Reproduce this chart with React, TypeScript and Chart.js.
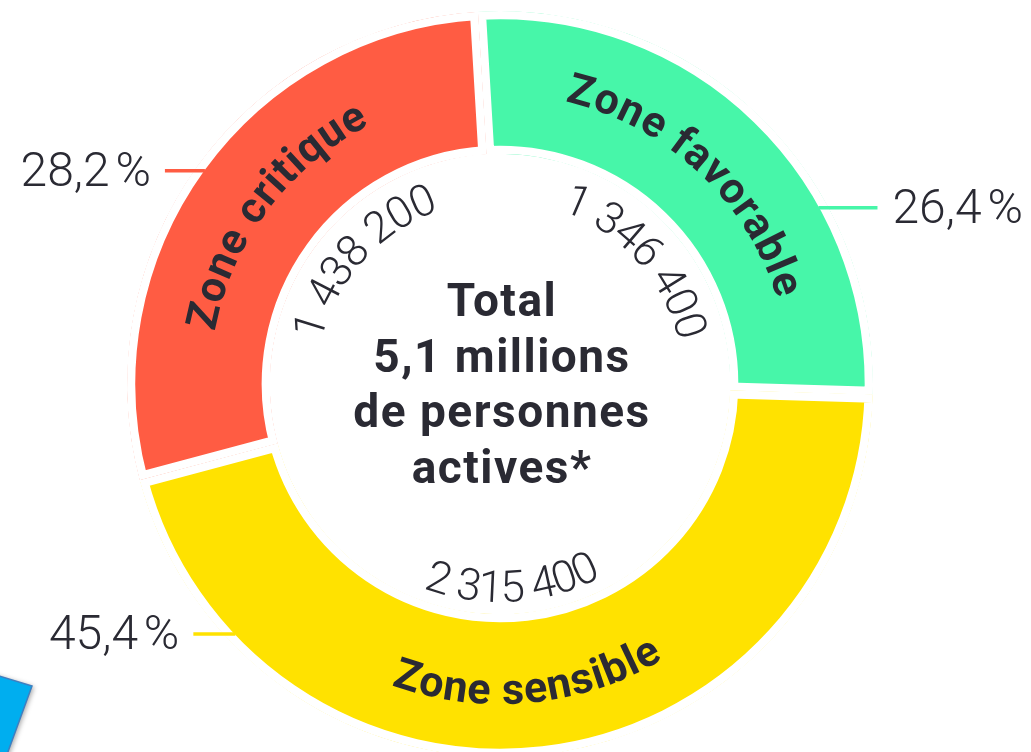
import React, { useEffect, useRef } from 'react';
import { Chart, registerables } from 'chart.js';

Chart.register(...registerables);

// ---- data ----
const zones = ['Zone favorable', 'Zone sensible', 'Zone critique'];
const persons = [1346400, 2315400, 1438200];
const personLabels = ['1 346 400', '2 315 400', '1 438 200'];
const percentLabels = ['26,4\u202F%', '45,4\u202F%', '28,2\u202F%'];
const centerLines = ['Total', '5,1 millions', 'de personnes', 'actives*'];

// ---- style ----
const zoneColors = ['#47F6A9', '#FFE200', '#FF5C43'];
const TEXT_DARK = '#2a2a33';
const GAP = 8;
const leaderFrac = [0.678, 0.826, 0.5];
const leaderLen = [59, 42, 40];
const labelAngleOffset = [-1.2, 1.25, 1.0];
const numberAngleOffset = [3.9, 3.1, 6.2];

const DEG = Math.PI / 180;

function drawTextOnArc(
  ctx: CanvasRenderingContext2D,
  text: string,
  cx: number,
  cy: number,
  baseR: number,
  midAngle: number,
  inward: boolean,
  ls: number
) {
  (ctx as any).letterSpacing = '0px';
  const chars = Array.from(text);
  const widths = chars.map((c) => ctx.measureText(c).width);
  const total = widths.reduce((s, w) => s + w, 0) + ls * (chars.length - 1);
  const dir = inward ? -1 : 1;
  let a = midAngle - (dir * total) / 2 / baseR;
  chars.forEach((c, i) => {
    const w = widths[i];
    const ac = a + (dir * (w / 2)) / baseR;
    ctx.save();
    ctx.translate(cx + baseR * Math.cos(ac), cy + baseR * Math.sin(ac));
    ctx.rotate(inward ? ac - Math.PI / 2 : ac + Math.PI / 2);
    ctx.textAlign = 'center';
    ctx.textBaseline = 'alphabetic';
    ctx.fillText(c, 0, 0);
    ctx.restore();
    a += (dir * (w + ls)) / baseR;
  });
}

const overlayPlugin = {
  id: 'overlay',
  afterDatasetsDraw(chart: any) {
    const ctx: CanvasRenderingContext2D = chart.ctx;
    const meta = chart.getDatasetMeta(0);
    meta.data.forEach((arc: any, i: number) => {
      const { x, y, startAngle, endAngle, outerRadius } = arc.getProps(
        ['x', 'y', 'startAngle', 'endAngle', 'outerRadius', 'innerRadius'],
        true
      );
      const mid = (startAngle + endAngle) / 2;
      const inward = Math.sin(mid) > 0.3;

      // leader line + percentage
      const la = startAngle + leaderFrac[i] * (endAngle - startAngle);
      const rVis = outerRadius - GAP - 1;
      const px = x + rVis * Math.cos(la);
      const py = y + rVis * Math.sin(la);
      const left = Math.cos(la) < 0;
      const ex = left ? px - leaderLen[i] : px + leaderLen[i];
      ctx.save();
      ctx.strokeStyle = zoneColors[i];
      ctx.lineWidth = 3.5;
      ctx.beginPath();
      ctx.moveTo(px, py);
      ctx.lineTo(ex, py);
      ctx.stroke();
      ctx.fillStyle = TEXT_DARK;
      ctx.font = '300 48px Roboto, "DejaVu Sans", sans-serif';
      (ctx as any).letterSpacing = '0.5px';
      ctx.textBaseline = 'alphabetic';
      ctx.textAlign = left ? 'right' : 'left';
      ctx.fillText(percentLabels[i], left ? ex - 14 : ex + 15, py + 15);
      ctx.restore();

      // zone name on the ring
      ctx.save();
      ctx.fillStyle = TEXT_DARK;
      ctx.font = 'bold 43px Roboto, "DejaVu Sans", sans-serif';
      drawTextOnArc(ctx, zones[i], x, y, inward ? 320 : 290, mid + labelAngleOffset[i] * DEG, inward, 1);
      ctx.restore();

      // person count inside the hole
      ctx.save();
      ctx.fillStyle = TEXT_DARK;
      ctx.font = '300 44px Roboto, "DejaVu Sans", sans-serif';
      drawTextOnArc(ctx, personLabels[i], x, y, inward ? 218 : 184, mid + numberAngleOffset[i] * DEG, inward, -1);
      ctx.restore();
    });

    // center text
    const a0 = meta.data[0];
    const cx = a0.x + 2;
    const cy = a0.y;
    ctx.save();
    ctx.fillStyle = TEXT_DARK;
    ctx.font = 'bold 46px Roboto, "DejaVu Sans", sans-serif';
    (ctx as any).letterSpacing = '1.5px';
    ctx.textAlign = 'center';
    ctx.textBaseline = 'alphabetic';
    centerLines.forEach((line, k) => {
      ctx.fillText(line, cx, cy - 68 + k * 55.7);
    });
    ctx.restore();
  },
  afterDraw(chart: any) {
    // decorative blue tab in the lower-left corner
    const ctx: CanvasRenderingContext2D = chart.ctx;
    ctx.save();
    ctx.shadowColor = 'rgba(0,0,0,0.35)';
    ctx.shadowBlur = 5;
    ctx.shadowOffsetX = 2;
    ctx.shadowOffsetY = 1;
    ctx.fillStyle = '#00AEEF';
    ctx.beginPath();
    ctx.moveTo(-120, 640);
    ctx.lineTo(32, 686);
    ctx.lineTo(-6, 790);
    ctx.lineTo(-160, 760);
    ctx.closePath();
    ctx.fill();
    ctx.shadowColor = 'transparent';
    ctx.strokeStyle = '#3f7fc0';
    ctx.lineWidth = 1.5;
    ctx.stroke();
    ctx.restore();
  },
};

export default function App() {
  const ref = useRef<HTMLCanvasElement>(null);
  useEffect(() => {
    if (!ref.current) return;
    const chart = new Chart(ref.current, {
      type: 'doughnut',
      data: {
        labels: zones,
        datasets: [
          {
            data: persons,
            backgroundColor: zoneColors,
            borderColor: '#ffffff',
            borderWidth: GAP,
            borderAlign: 'inner',
            hoverOffset: 0,
            clip: false,
          } as any,
        ],
      },
      options: {
        responsive: false,
        animation: false,
        rotation: -3.4,
        cutout: '61.66%',
        radius: 373,
        events: [],
        layout: { padding: { left: 0, right: 31, top: 16, bottom: 0 } },
        plugins: { legend: { display: false }, tooltip: { enabled: false } },
      } as any,
      plugins: [overlayPlugin],
    });
    return () => chart.destroy();
  }, []);
  return (
    <div style={{ position: 'fixed', left: 0, top: 0, width: 1031, height: 752, background: '#fff', overflow: 'hidden' }}>
      <canvas ref={ref} width={1031} height={752} style={{ width: 1031, height: 752, display: 'block' }} />
    </div>
  );
}
